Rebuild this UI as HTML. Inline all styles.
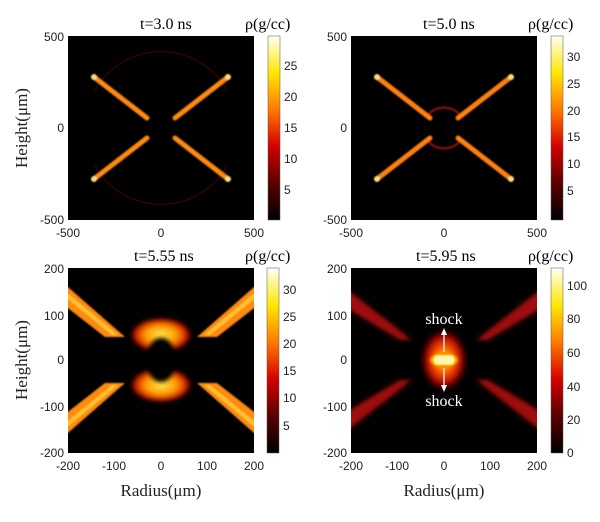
<!DOCTYPE html>
<html><head><meta charset="utf-8"><style>
body{margin:0;background:#fff;}
svg text{font-family:"Liberation Sans",sans-serif;}
.serif{font-family:"Liberation Serif",serif;}
</style></head><body>
<svg width="600" height="517" viewBox="0 0 600 517" xmlns="http://www.w3.org/2000/svg">
<defs>
<linearGradient id="cb" x1="0" y1="1" x2="0" y2="0">
<stop offset="0" stop-color="#000"/><stop offset="0.2" stop-color="#5a0000"/>
<stop offset="0.4" stop-color="#d40000"/><stop offset="0.6" stop-color="#ff7a00"/>
<stop offset="0.8" stop-color="#ffe800"/><stop offset="1" stop-color="#fffff8"/>
</linearGradient>
<filter id="b1"><feGaussianBlur stdDeviation="0.8"/></filter>
<filter id="b2"><feGaussianBlur stdDeviation="2"/></filter>
<radialGradient id="blob3" cx="0.5" cy="0.5" r="0.5">
<stop offset="0" stop-color="#ffe84a"/><stop offset="0.5" stop-color="#ff9a00"/><stop offset="0.8" stop-color="#d01800"/><stop offset="1" stop-color="#300" stop-opacity="0"/>
</radialGradient>
<radialGradient id="blob4" cx="0.5" cy="0.5" r="0.5">
<stop offset="0" stop-color="#ffd000"/><stop offset="0.4" stop-color="#ff5a00"/><stop offset="0.75" stop-color="#a00000"/><stop offset="1" stop-color="#200" stop-opacity="0"/>
</radialGradient>
<clipPath id="c1"><rect x="68" y="36" width="186" height="184"/></clipPath>
<clipPath id="c2"><rect x="351" y="36" width="186" height="184"/></clipPath>
<clipPath id="c3"><rect x="68" y="268" width="186" height="185"/></clipPath>
<clipPath id="c4"><rect x="351" y="268" width="186" height="185"/></clipPath>
</defs>

<!-- Panel 1 -->
<rect x="68" y="36" width="186" height="184" fill="#000"/>
<g clip-path="url(#c1)">
<path d="M95,90 A76,76 0 0 1 227,90 M95,166 A76,76 0 0 0 227,166" fill="none" stroke="#3a0404" stroke-width="1.2"/>
<g filter="url(#b1)" stroke-linecap="round">
<line x1="94" y1="77" x2="147" y2="118" stroke="#ff8a10" stroke-width="5"/>
<line x1="228" y1="77" x2="175" y2="118" stroke="#ff8a10" stroke-width="5"/>
<line x1="94" y1="179" x2="147" y2="138" stroke="#ff8a10" stroke-width="5"/>
<line x1="228" y1="179" x2="175" y2="138" stroke="#ff8a10" stroke-width="5"/>
<circle cx="94" cy="77" r="3" fill="#ffe080"/><circle cx="228" cy="77" r="3" fill="#ffe080"/>
<circle cx="94" cy="179" r="3" fill="#ffe080"/><circle cx="228" cy="179" r="3" fill="#ffe080"/>
</g>
</g>
<rect x="268" y="36" width="12" height="184" fill="url(#cb)" stroke="#555" stroke-width="0.5"/>
<g font-size="12" fill="#222">
<text x="284" y="70">25</text><text x="284" y="101">20</text><text x="284" y="132">15</text><text x="284" y="163">10</text><text x="284" y="194">5</text>
<text x="64" y="41" text-anchor="end">500</text><text x="64" y="132" text-anchor="end">0</text><text x="64" y="224" text-anchor="end">-500</text>
<text x="68" y="237" text-anchor="middle">-500</text><text x="161" y="237" text-anchor="middle">0</text><text x="254" y="237" text-anchor="middle">500</text>
</g>
<text class="serif" x="140" y="29" font-size="16">t=3.0 ns</text>
<text class="serif" x="245" y="29" font-size="16">ρ(g/cc)</text>

<!-- Panel 2 -->
<rect x="351" y="36" width="186" height="184" fill="#000"/>
<g clip-path="url(#c2)">
<path d="M428,115 A21,21 0 0 1 460,115 M428,141 A21,21 0 0 0 460,141" fill="none" stroke="#a01010" stroke-width="2" filter="url(#b1)"/>
<g filter="url(#b1)" stroke-linecap="round">
<line x1="377" y1="77" x2="430" y2="118" stroke="#ff8010" stroke-width="5"/>
<line x1="511" y1="77" x2="458" y2="118" stroke="#ff8010" stroke-width="5"/>
<line x1="377" y1="179" x2="430" y2="138" stroke="#ff8010" stroke-width="5"/>
<line x1="511" y1="179" x2="458" y2="138" stroke="#ff8010" stroke-width="5"/>
<circle cx="377" cy="77" r="3" fill="#ffe080"/><circle cx="511" cy="77" r="3" fill="#ffe080"/>
<circle cx="377" cy="179" r="3" fill="#ffe080"/><circle cx="511" cy="179" r="3" fill="#ffe080"/>
</g>
</g>
<rect x="551" y="36" width="12" height="184" fill="url(#cb)" stroke="#555" stroke-width="0.5"/>
<g font-size="12" fill="#222">
<text x="567" y="61">30</text><text x="567" y="88">25</text><text x="567" y="115">20</text><text x="567" y="141">15</text><text x="567" y="168">10</text><text x="567" y="195">5</text>
<text x="347" y="41" text-anchor="end">500</text><text x="347" y="132" text-anchor="end">0</text><text x="347" y="224" text-anchor="end">-500</text>
<text x="351" y="237" text-anchor="middle">-500</text><text x="444" y="237" text-anchor="middle">0</text><text x="537" y="237" text-anchor="middle">500</text>
</g>
<text class="serif" x="423" y="29" font-size="16">t=5.0 ns</text>
<text class="serif" x="528" y="29" font-size="16">ρ(g/cc)</text>

<!-- Panel 3 -->
<rect x="68" y="268" width="186" height="185" fill="#000"/>
<g clip-path="url(#c3)">
<g filter="url(#b1)" fill="#ff8a10">
<polygon points="60,280 125,337 105,337 60,302"/>
<polygon points="262,280 197,337 217,337 262,302"/>
<polygon points="60,440 125,383 105,383 60,418"/>
<polygon points="262,440 197,383 217,383 262,418"/>
</g>
<g filter="url(#b1)" fill="#ffd040" opacity="0.8">
<polygon points="64,290 118,335 112,335 64,296"/>
<polygon points="258,290 204,335 210,335 258,296"/>
<polygon points="64,430 118,385 112,385 64,424"/>
<polygon points="258,430 204,385 210,385 258,424"/>
</g>
<ellipse cx="161" cy="335" rx="32" ry="18" fill="url(#blob3)" filter="url(#b2)"/>
<ellipse cx="161" cy="385" rx="32" ry="18" fill="url(#blob3)" filter="url(#b2)"/>
<ellipse cx="161" cy="360" rx="15" ry="22" fill="#000" filter="url(#b2)"/>
</g>
<rect x="267" y="268" width="12" height="185" fill="url(#cb)" stroke="#555" stroke-width="0.5"/>
<g font-size="12" fill="#222">
<text x="283" y="294">30</text><text x="283" y="321">25</text><text x="283" y="348">20</text><text x="283" y="375">15</text><text x="283" y="402">10</text><text x="283" y="430">5</text>
<text x="64" y="273" text-anchor="end">200</text><text x="64" y="320" text-anchor="end">100</text><text x="64" y="364" text-anchor="end">0</text><text x="64" y="411" text-anchor="end">-100</text><text x="64" y="457" text-anchor="end">-200</text>
<text x="68" y="470" text-anchor="middle">-200</text><text x="114" y="470" text-anchor="middle">-100</text><text x="161" y="470" text-anchor="middle">0</text><text x="207" y="470" text-anchor="middle">100</text><text x="254" y="470" text-anchor="middle">200</text>
</g>
<text class="serif" x="134" y="261" font-size="16">t=5.55 ns</text>
<text class="serif" x="245" y="261" font-size="16">ρ(g/cc)</text>

<!-- Panel 4 -->
<rect x="351" y="268" width="186" height="185" fill="#000"/>
<g clip-path="url(#c4)">
<g filter="url(#b2)" fill="#a01010">
<polygon points="343,286 412,340 400,340 343,306"/>
<polygon points="545,286 476,340 488,340 545,306"/>
<polygon points="343,434 412,380 400,380 343,414"/>
<polygon points="545,434 476,380 488,380 545,414"/>
</g>
<ellipse cx="444" cy="360" rx="24" ry="32" fill="url(#blob4)" filter="url(#b2)"/>
<ellipse cx="444" cy="360" rx="14" ry="8" fill="#ff9000" filter="url(#b1)"/>
<rect x="433" y="355" width="22" height="10" rx="5" fill="#fff4b0" stroke="#ffd000" stroke-width="1"/>
<line x1="444" y1="352" x2="444" y2="333" stroke="#fff" stroke-width="1.2"/>
<polygon points="444,328 441,335 447,335" fill="#fff"/>
<line x1="444" y1="368" x2="444" y2="387" stroke="#fff" stroke-width="1.2"/>
<polygon points="444,392 441,385 447,385" fill="#fff"/>
<text class="serif" x="444" y="324" font-size="16" fill="#fff" text-anchor="middle">shock</text>
<text class="serif" x="444" y="406" font-size="16" fill="#fff" text-anchor="middle">shock</text>
</g>
<rect x="551" y="268" width="12" height="185" fill="url(#cb)" stroke="#555" stroke-width="0.5"/>
<g font-size="12" fill="#222">
<text x="567" y="290">100</text><text x="567" y="323">80</text><text x="567" y="357">60</text><text x="567" y="391">40</text><text x="567" y="424">20</text><text x="567" y="457">0</text>
<text x="347" y="273" text-anchor="end">200</text><text x="347" y="320" text-anchor="end">100</text><text x="347" y="364" text-anchor="end">0</text><text x="347" y="411" text-anchor="end">-100</text><text x="347" y="457" text-anchor="end">-200</text>
<text x="351" y="470" text-anchor="middle">-200</text><text x="397" y="470" text-anchor="middle">-100</text><text x="444" y="470" text-anchor="middle">0</text><text x="490" y="470" text-anchor="middle">100</text><text x="537" y="470" text-anchor="middle">200</text>
</g>
<text class="serif" x="416" y="261" font-size="16">t=5.95 ns</text>
<text class="serif" x="528" y="261" font-size="16">ρ(g/cc)</text>

<!-- axis labels -->
<text class="serif" font-size="17" fill="#222" transform="translate(27,128) rotate(-90)" text-anchor="middle">Height(μm)</text>
<text class="serif" font-size="17" fill="#222" transform="translate(27,360) rotate(-90)" text-anchor="middle">Height(μm)</text>
<text class="serif" font-size="17" fill="#222" x="161" y="496" text-anchor="middle">Radius(μm)</text>
<text class="serif" font-size="17" fill="#222" x="444" y="496" text-anchor="middle">Radius(μm)</text>
</svg>
</body></html>
